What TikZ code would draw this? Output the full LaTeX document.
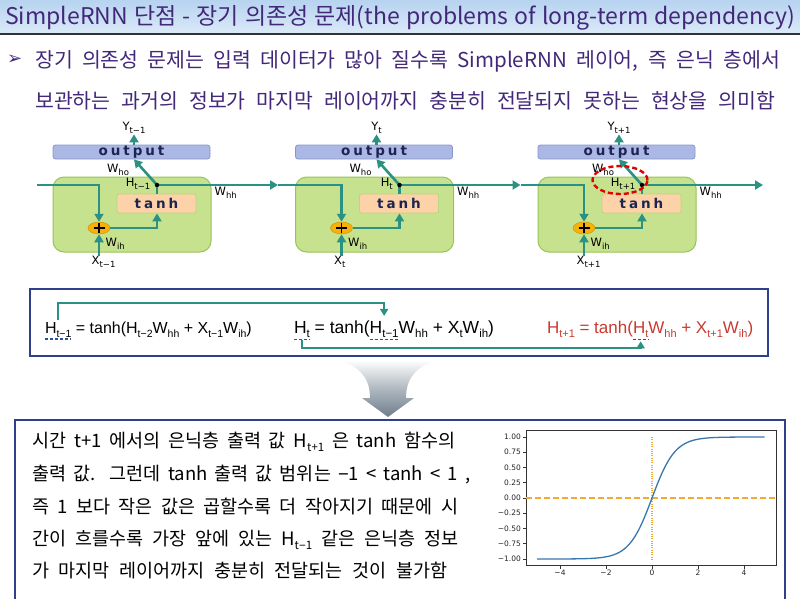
\documentclass[tikz,border=0pt]{standalone}
\usepackage{fontspec}
\setmainfont{Liberation Sans}
\newfontfamily\krfont{Noto Sans CJK KR}
\newfontfamily\dvfont{DejaVu Sans}
\newfontfamily\boxfont[LetterSpace=22]{DejaVu Sans}
\usetikzlibrary{arrows.meta,shapes.geometric,calc}
\definecolor{flowc}{HTML}{2B9283}
\definecolor{cellg}{HTML}{C6E28E}
\definecolor{cellgd}{HTML}{96C557}
\definecolor{outb}{HTML}{AAB8E3}
\definecolor{outbd}{HTML}{8797CC}
\definecolor{tanhf}{HTML}{FDD2A8}
\definecolor{tanhd}{HTML}{B9D680}
\definecolor{plusf}{HTML}{F6B10A}
\definecolor{navy}{HTML}{2E3F8C}
\definecolor{boxtext}{HTML}{1E2452}
\definecolor{ttl}{HTML}{43287A}
\definecolor{eqred}{HTML}{C83A30}
\definecolor{ulblue}{HTML}{2A4FA8}
\definecolor{orngline}{RGB}{242,170,50}
\definecolor{curveb}{HTML}{3A76AE}
\definecolor{arrgray}{HTML}{6E7E8C}
\definecolor{bartop}{HTML}{B7D3F0}
\definecolor{barbot}{HTML}{DAE9F8}
\newcommand\lsub[2][10.5]{\raisebox{-0.25em}{\fontsize{#1}{#1}\selectfont #2}}
\begin{document}
\begin{tikzpicture}[x=1pt,y=-1pt,
  flow/.style={draw=flowc,line width=2.6pt},
  arr/.style={flow,-{Triangle[length=8pt,width=9pt]}},
  arrs/.style={draw=flowc,line width=2.2pt,-{Triangle[length=7pt,width=8pt]}},
  cellbox/.style={draw=cellgd,fill=cellg,line width=1pt,rounded corners=11pt,minimum width=158pt,minimum height=75pt,inner sep=0pt},
  outbox/.style={draw=outbd,fill=outb,line width=0.8pt,rounded corners=2.5pt,minimum width=157pt,minimum height=14pt,inner sep=0pt,font=\boxfont\bfseries\fontsize{13.5}{13.5}\selectfont,text=boxtext},
  tanhbox/.style={draw=tanhd,fill=tanhf,line width=0.8pt,rounded corners=2pt,minimum width=79pt,minimum height=19pt,inner sep=0pt,font=\boxfont\bfseries\fontsize{13.5}{13.5}\selectfont,text=boxtext},
  plusnode/.style={ellipse,fill=plusf,draw=plusf!85!black,line width=0.5pt,minimum width=22pt,minimum height=12pt,inner sep=0pt},
  dotnode/.style={circle,fill=black,inner sep=0pt,minimum size=4.5pt},
  lbl/.style={font=\dvfont\fontsize{11.5}{11.5}\selectfont,inner sep=0.5pt},
  eq/.style={font=\fontsize{16}{16}\selectfont,inner sep=0pt,outer sep=0pt,anchor=base west},
  eqb/.style={eq,font=\fontsize{17.5}{17.5}\selectfont},
  eqc/.style={eq,font=\fontsize{17}{17}\selectfont,text=eqred},
  uline/.style={draw=ulblue,line width=1.2pt,dash pattern=on 3pt off 2pt},
  krline/.style={font=\krfont\fontsize{18.5}{18.5}\selectfont,inner sep=0pt,anchor=base west},
  ticklbl/.style={font=\dvfont\fontsize{7.5}{7.5}\selectfont,text=black!85,inner sep=0pt},
  tick/.style={draw=black!80,line width=0.6pt}]
\useasboundingbox (0,0) rectangle (800,598);
% title bar
\shade[top color=bartop,bottom color=barbot] (0,0) rectangle (800,33);
\draw[line width=2pt,color=black!80] (0,33.5) -- (800,33.5);
\node[anchor=base west,inner sep=0pt,font=\krfont\fontsize{23}{23}\selectfont,text=ttl] (title) at (5,24)
  {\makebox[790pt][s]{SimpleRNN 단점 - 장기 의존성 문제(the problems of long-term dependency)}};
% bullet text
\node[font=\dvfont\fontsize{18}{18}\selectfont,text=ttl,anchor=west,inner sep=0pt] (bul) at (7,60) {➢};
\node[anchor=base west,inner sep=0pt,font=\krfont\fontsize{20.5}{20.5}\selectfont,text=ttl] (b1) at (35,67.5)
  {\makebox[745pt][s]{장기 의존성 문제는 입력 데이터가 많아 질수록 SimpleRNN 레이어, 즉 은닉 층에서}};
\node[anchor=base west,inner sep=0pt,font=\krfont\fontsize{20.5}{20.5}\selectfont,text=ttl] (b2) at (35,108.5)
  {\makebox[740pt][s]{보관하는 과거의 정보가 마지막 레이어까지 충분히 전달되지 못하는 현상을 의미함}};
% RNN cells
\foreach \i/\s in {0/t−1,1/t,2/t+1}{
  \begin{scope}[xshift=242.5*\i]
    \node[cellbox] (g\i) at (132,214.5) {};
    \node[outbox] (out\i) at (131.5,152) {output};
    \node[tanhbox] (th\i) at (156.5,203.5) {tanh};
    \node[plusnode] (pl\i) at (99,228) {};
    \draw[line width=1.8pt] ($(pl\i)+(-5.5,0)$) -- ($(pl\i)+(5.5,0)$) ($(pl\i)+(0,-5)$) -- ($(pl\i)+(0,5)$);
    \coordinate (dc\i) at (157,185);
    \node[lbl] (yl\i) at (134,128) {Y\lsub[8.5]{\s}};
    \node[lbl] (who\i) at (118,170) {W\lsub[8.5]{ho}};
    \node[lbl,anchor=east] (hl\i) at (151,183.5) {H\lsub[8.5]{\s}};
    \node[lbl,anchor=west] (whh\i) at (214,193) {W\lsub[8.5]{hh}};
    \node[lbl,anchor=west] (wih\i) at (105,244) {W\lsub[8.5]{ih}};
    \node[lbl,anchor=west] (xl\i) at (91,262) {X\lsub[8.5]{\s}};
    \coordinate (tip\i) at (278,185);
    \draw[arr] (pl\i.south |- xl\i.north) -- (pl\i.south);
    \draw[arr] (pl\i.east) -| (th\i.south -| dc\i);
    \draw[flow] (th\i.north -| dc\i) -- (dc\i);
    \draw[arr] (dc\i) -- (out\i.south -| yl\i);
    \draw[arr] (out\i.north -| yl\i) -- (yl\i.south);
    \draw[arr] (dc\i) -- (tip\i);
    \node[dotnode] (dt\i) at (dc\i) {};
  \end{scope}
}
\coordinate (start) at (37,185);
\draw[arr] (start) -| (pl0.north);
\draw[arr] (tip0) -| (pl1.north);
\draw[arr] (tip1) -| (pl2.north);
\node[ellipse,draw=red!90!black,line width=2.4pt,dash pattern=on 5pt off 3pt,minimum width=55pt,minimum height=28pt,inner sep=0pt] (hlt) at (620,180) {};
% equation box
\node[draw=navy,line width=1.5pt,minimum width=738pt,minimum height=67pt,inner sep=0pt] (eqbox) at (399,322.5) {};
\node[eq] (e1h) at (45,333) {H\lsub{t−1}};
\node[eq] (e1r) at (e1h.base east) {\ = tanh(H\lsub{t−2}W\lsub{hh} + X\lsub{t−1}W\lsub{ih})};
\node[eqb] (e2h) at (294,333) {H\lsub[11.5]{t}};
\node[eqb] (e2a) at (e2h.base east) {\ = tanh(};
\node[eqb] (e2m) at (e2a.base east) {H\lsub[11.5]{t−1}};
\node[eqb] (e2b) at (e2m.base east) {W\lsub[11.5]{hh} + X\lsub[11.5]{t}W\lsub[11.5]{ih})};
\node[eqc] (e3a) at (547,333) {H\lsub[11]{t+1} = tanh(};
\node[eqc] (e3h) at (e3a.base east) {H\lsub[11]{t}};
\node[eqc] (e3b) at (e3h.base east) {W\lsub[11]{hh} + X\lsub[11]{t+1}W\lsub[11]{ih})};
\foreach \n in {e1h,e2h,e2m,e3h}{
  \draw[uline] ([yshift=-2pt]\n.south west) -- ([yshift=-2pt]\n.south east);
}
\coordinate (c1) at ($(e2m.north)+(0,-18)$);
\draw[arrs] ([yshift=2pt]e1h.north) |- (c1) -- ([yshift=5pt]e2m.north);
\coordinate (c2) at ($(e3h.south)+(0,11)$);
\draw[arrs] ([yshift=-3pt]e2h.south) |- (c2) -- ([yshift=-4pt]e3h.south);
% down arrow
\shade[top color=white,bottom color=arrgray,middle color=arrgray!55]
  (340,360) .. controls (362,368) and (370,380) .. (370,398) -- (362,398) -- (388,417)
  -- (414,398) -- (406,398) .. controls (406,380) and (414,368) .. (436,360) -- cycle;
% bottom box
\node[draw=navy,line width=1.5pt,minimum width=770pt,minimum height=185pt,inner sep=0pt] (tbox) at (400,512.5) {};
\node[krline] (t1) at (32,447) {\makebox[423pt][s]{시간 t+1 에서의 은닉층 출력 값 H\lsub[11.5]{t+1} 은 tanh 함수의}};
\node[krline] (t2) at (32,480.5) {\makebox[438pt][s]{출력 값. 그런데 tanh 출력 값 범위는 {\rmfamily −}1 < tanh < 1 ,}};
\node[krline] (t3) at (32,513.5) {\makebox[426pt][s]{즉 1 보다 작은 값은 곱할수록 더 작아지기 때문에 시}};
\node[krline] (t4) at (32,545) {\makebox[426pt][s]{간이 흐를수록 가장 앞에 있는 H\lsub[11.5]{t{\rmfamily −}1} 같은 은닉층 정보}};
\node[krline] (t5) at (32,577) {\makebox[415pt][s]{가 마지막 레이어까지 충분히 전달되는 것이 불가함}};
% tanh plot
\node[draw=black!80,line width=0.8pt,minimum width=250pt,minimum height=135pt,inner sep=0pt] (ax) at (651,497.5) {};
\draw[orngline,line width=2pt,dash pattern=on 6pt off 3pt] (ax.west |- 0,498) -- (ax.east |- 0,498);
\draw[orngline,line width=1.2pt,dash pattern=on 1pt off 1.3pt] (652,437) -- (652,559);
\draw[curveb,line width=1.3pt] plot[domain=-5:4.9,samples=120,smooth] ({652+23*\x},{498-61*tanh(\x)});
\foreach \v/\t [count=\k] in {1/1.00,0.75/0.75,0.5/0.50,0.25/0.25,0/0.00,-0.25/−0.25,-0.5/−0.50,-0.75/−0.75,-1/−1.00}{
  \draw[tick] (526,{498-61*\v}) -- ++(-3.5,0);
  \node[ticklbl,anchor=east] (yt\k) at (521,{498-61*\v}) {\t};
}
\foreach \v/\t [count=\k] in {-4/−4,-2/−2,0/0,2/2,4/4}{
  \draw[tick] ({652+23*\v},565) -- ++(0,3.5);
  \node[ticklbl,anchor=north] (xt\k) at ({652+23*\v},570) {\t};
}
\end{tikzpicture}
\end{document}
